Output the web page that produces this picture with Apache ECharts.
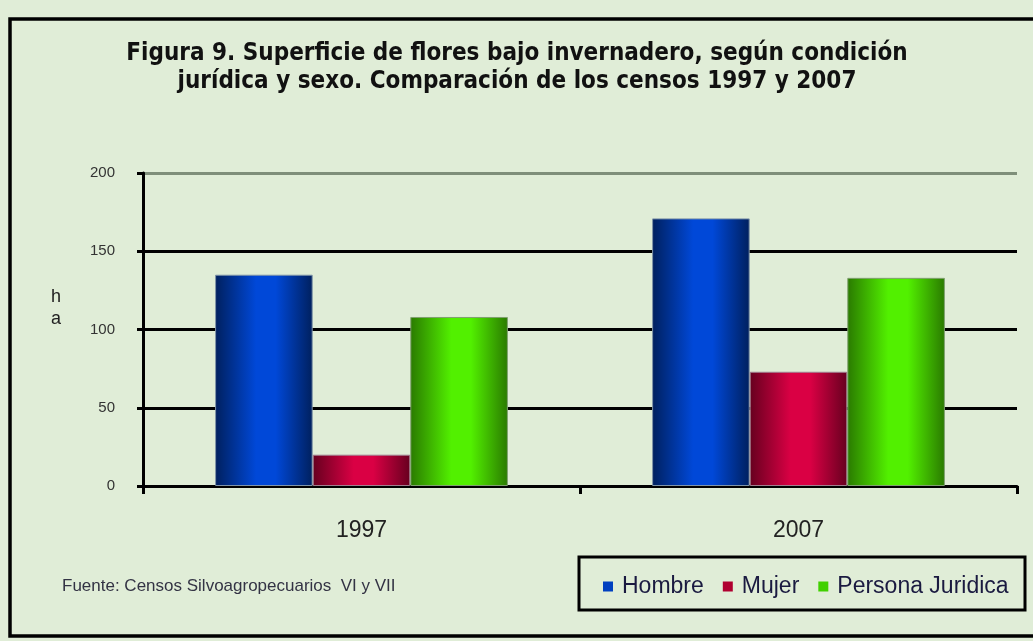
<!DOCTYPE html>
<html>
<head>
<meta charset="utf-8">
<script src="https://cdn.jsdelivr.net/npm/echarts@6/dist/echarts.min.js"></script>
<style>
  html, body { margin: 0; padding: 0; background: #e0edd7; }
  #main { width: 1033px; height: 641px; }
</style>
</head>
<body>
<div id="main"></div>
<script>
var years = ['1997', '2007'];
var hombre = [135, 171];
var mujer = [20, 73];
var juridica = [108, 133];
var seriesNames = ['Hombre', 'Mujer', 'Persona Juridica'];

var NARROW = "'Liberation Sans Narrow', 'DejaVu Sans Condensed', 'Liberation Sans', sans-serif";
var SANS = "'Liberation Sans', Arial, sans-serif";

// horizontal shading like the old office 3d bars
function shade(dark, bright) {
    return new echarts.graphic.LinearGradient(0, 0, 1, 0, [
        { offset: 0, color: dark },
        { offset: 0.42, color: bright },
        { offset: 0.62, color: bright },
        { offset: 1, color: dark }
    ]);
}

var myChart = echarts.init(document.getElementById('main'));
var option = {
    backgroundColor: '#e0edd7',
    animation: false,
    title: {
        text: 'Figura 9. Superficie de flores bajo invernadero, según condición\njurídica y sexo. Comparación de los censos 1997 y 2007',
        left: 512,
        top: 35,
        textAlign: 'center',
        textStyle: {
            fontFamily: NARROW,
            fontWeight: 'bold',
            fontSize: 24,
            lineHeight: 28,
            color: '#111'
        }
    },
    legend: {
        left: 598,
        top: 570,
        icon: 'rect',
        itemWidth: 10,
        itemHeight: 10,
        itemGap: 19,
        textStyle: { fontFamily: SANS, fontSize: 23, color: '#1a1a40', padding: [0, 0, 0, 4] },
        data: [
            { name: 'Hombre', itemStyle: { color: '#0040c0', borderWidth: 0 } },
            { name: 'Mujer', itemStyle: { color: '#b00030', borderWidth: 0 } },
            { name: 'Persona Juridica', itemStyle: { color: '#40d000', borderWidth: 0 } }
        ]
    },
    grid: { left: 143, right: 16, top: 173, bottom: 155 },
    xAxis: {
        type: 'category',
        data: years,
        axisLine: { lineStyle: { color: '#000', width: 3 } },
        axisTick: { show: true, length: 8, lineStyle: { color: '#000', width: 3 } },
        axisLabel: { fontFamily: SANS, fontSize: 23, color: '#222', margin: 33 }
    },
    yAxis: {
        type: 'value',
        min: 0,
        max: 200,
        interval: 50,
        axisLine: { show: true, lineStyle: { color: '#000', width: 3 } },
        axisTick: { show: true, length: 6, lineStyle: { color: '#000', width: 3 } },
        axisLabel: { fontFamily: SANS, fontSize: 15, color: '#333', margin: 28 },
        splitLine: { lineStyle: { color: ['#000', '#000', '#000', '#000', '#7f8f7a'], width: 3 } }
    },
    series: [
        {
            name: seriesNames[0], type: 'bar', data: hombre,
            barGap: 0, barCategoryGap: '33%',
            itemStyle: { color: shade('#00205e', '#0048d8'), borderColor: '#7f94a8', borderWidth: 1 }
        },
        {
            name: seriesNames[1], type: 'bar', data: mujer,
            itemStyle: { color: shade('#66001f', '#da0044'), borderColor: '#a08090', borderWidth: 1 }
        },
        {
            name: seriesNames[2], type: 'bar', data: juridica,
            itemStyle: { color: shade('#2a7a00', '#52f000'), borderColor: '#80a070', borderWidth: 1 }
        }
    ],
    graphic: [
        {
            type: 'rect', silent: true, z: -1,
            shape: { x: 10, y: 19, width: 1040, height: 617 },
            style: { fill: null, stroke: '#000', lineWidth: 3.5 }
        },
        {
            type: 'rect', silent: true,
            shape: { x: 579, y: 557, width: 446, height: 53 },
            style: { fill: null, stroke: '#000', lineWidth: 3 }
        },
        {
            type: 'text', left: 51, top: 286,
            style: { text: 'h\na', font: '18px ' + SANS, fill: '#222', lineHeight: 22 }
        },
        {
            type: 'text', left: 62, top: 578,
            style: { text: 'Fuente: Censos Silvoagropecuarios  VI y VII', font: '17px ' + SANS, fill: '#334' }
        }
    ]
};
myChart.setOption(option);
</script>
</body>
</html>
